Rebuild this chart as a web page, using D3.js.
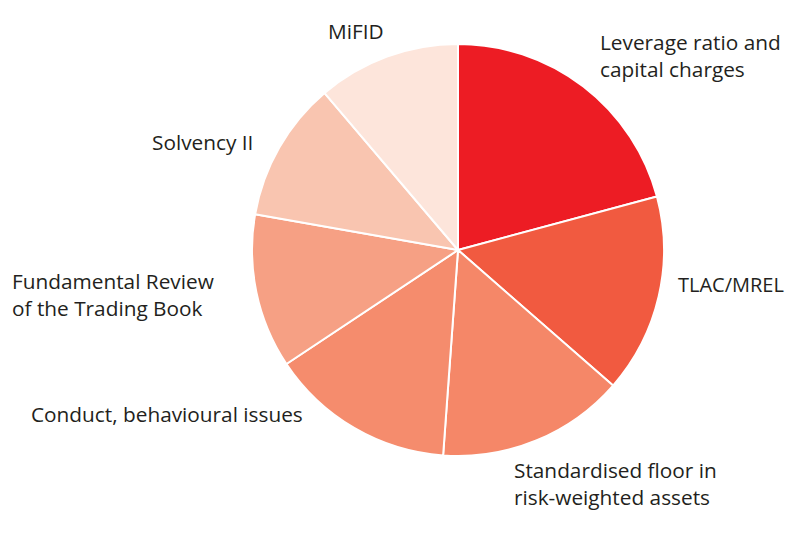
<!DOCTYPE html>
<html>
<head>
<meta charset="utf-8">
<script src="https://cdn.jsdelivr.net/npm/d3@7"></script>
<style>
  html, body { margin: 0; padding: 0; background: #fff; }
  svg { display: block; }
  text { font-family: "Open Sans", sans-serif; fill: #231f20; }
</style>
</head>
<body>
<svg id="chart" width="800" height="558"></svg>
<script>
// Data
const categories = [
  "Leverage ratio and capital charges",
  "TLAC/MREL",
  "Standardised floor in risk-weighted assets",
  "Conduct, behavioural issues",
  "Fundamental Review of the Trading Book",
  "Solvency II",
  "MiFID"
];
const values = [20.8, 15.6, 14.7, 14.5, 12.1, 11.0, 11.2];
const labelLines = [
  ["Leverage ratio and", "capital charges"],
  ["TLAC/MREL"],
  ["Standardised floor in", "risk-weighted assets"],
  ["Conduct, behavioural issues"],
  ["Fundamental Review", "of the Trading Book"],
  ["Solvency II"],
  ["MiFID"]
];
const colors = ["#ed1c24", "#f15a40", "#f58768", "#f58c6d", "#f6a084", "#f9c5b0", "#fde5db"];

// Layout (label anchor positions: x, first baseline, font size)
const labelPos = [
  [600, 50, 20.8], [678, 292, 20], [514, 478, 20.8], [31, 422, 20.8],
  [12, 289, 20.8], [152, 150, 20.8], [328, 39, 20.8]
];
const lineHeight = 27;
const cx = 458, cy = 250, radius = 206;

const svg = d3.select("#chart");
const g = svg.append("g").attr("transform", `translate(${cx},${cy})`);

const pie = d3.pie().sort(null).value(d => d).startAngle(0).endAngle(2 * Math.PI);
const arc = d3.arc().innerRadius(0).outerRadius(radius);
const color = d3.scaleOrdinal().domain(categories).range(colors);

g.selectAll("path")
  .data(pie(values))
  .join("path")
  .attr("d", arc)
  .attr("fill", (d, i) => color(categories[i]))
  .attr("stroke", "#fff")
  .attr("stroke-width", 2)
  .attr("stroke-linejoin", "round");

const labels = svg.append("g")
  .selectAll("text")
  .data(categories)
  .join("text")
  .attr("x", (d, i) => labelPos[i][0])
  .attr("y", (d, i) => labelPos[i][1])
  .attr("font-size", (d, i) => labelPos[i][2]);

labels.each(function(d, i) {
  d3.select(this).selectAll("tspan")
    .data(labelLines[i])
    .join("tspan")
    .attr("x", labelPos[i][0])
    .attr("dy", (t, j) => j === 0 ? 0 : lineHeight)
    .text(t => t);
});
</script>
</body>
</html>
